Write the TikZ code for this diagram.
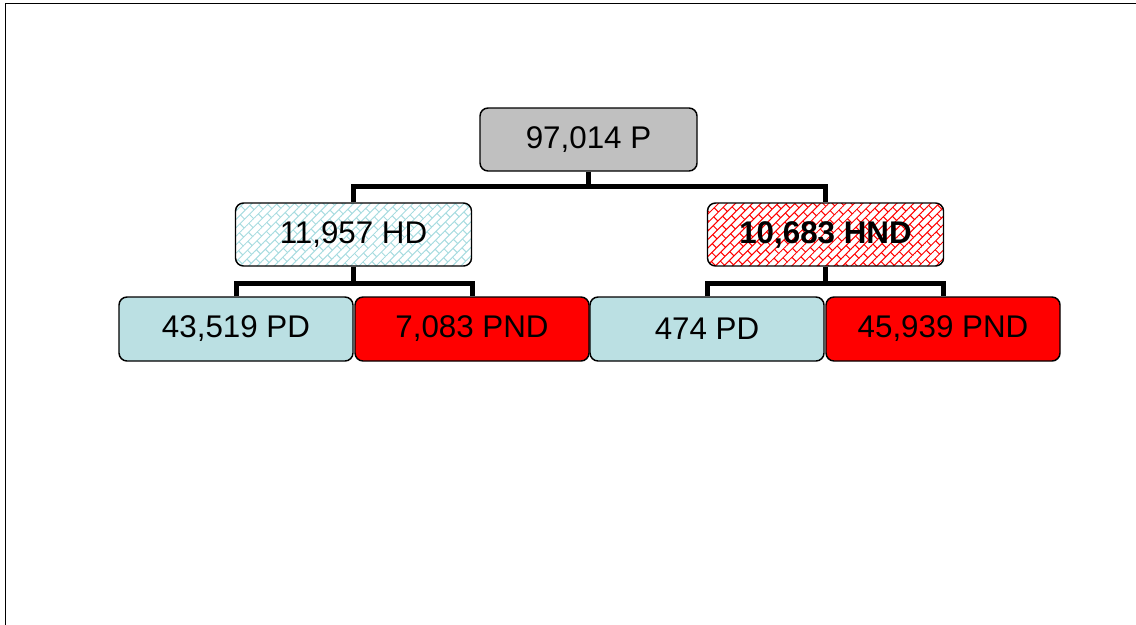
\documentclass[tikz,border=0pt]{standalone}
\usepackage{fontspec}
\setmainfont{Liberation Sans}
\usetikzlibrary{patterns.meta}
\pgfdeclarepattern{
  name=diagbricks,
  type=uncolored,
  bottom left={\pgfpoint{-0.5pt}{-0.5pt}},
  top right={\pgfpoint{10.5pt}{9.5pt}},
  tile size={\pgfpoint{10pt}{9pt}},
  tile transformation={\pgftransformrotate{45}},
  code={
    \pgfsetlinewidth{0.75pt}
    \pgfpathmoveto{\pgfpoint{0pt}{0pt}}\pgfpathlineto{\pgfpoint{10pt}{0pt}}
    \pgfpathmoveto{\pgfpoint{0pt}{4.5pt}}\pgfpathlineto{\pgfpoint{10pt}{4.5pt}}
    \pgfpathmoveto{\pgfpoint{0pt}{0pt}}\pgfpathlineto{\pgfpoint{0pt}{4.5pt}}
    \pgfpathmoveto{\pgfpoint{5pt}{4.5pt}}\pgfpathlineto{\pgfpoint{5pt}{9pt}}
    \pgfusepath{stroke}
  }
}
\definecolor{rootgray}{HTML}{C0C0C0}
\definecolor{pdblue}{HTML}{BBE0E3}
\definecolor{hatchblue}{HTML}{A8DCE0}
\definecolor{pndred}{HTML}{FF0000}
\tikzset{
  box/.style={draw=black, line width=1.1pt, rounded corners=6pt, inner sep=0pt,
    font=\fontsize{23.5}{28}\selectfont, text=black},
  rootbox/.style={box, fill=rootgray, minimum width={217*0.75pt}, minimum height={63*0.75pt}},
  midbox/.style={box, minimum width={236*0.75pt}, minimum height={63*0.75pt}},
  leafbox/.style={box, minimum width={234*0.75pt}, minimum height={64*0.75pt}},
  conn/.style={draw=black, line width=3.75pt, line join=miter, line cap=butt},
  frame/.style={draw=black, line width=1.4pt}
}
\begin{document}
\begin{tikzpicture}[x=0.75pt, y=-0.75pt]
\useasboundingbox (0,0) rectangle (1136,625);
\draw[frame] (5.5,630) -- (5.5,3.5) -- (1140,3.5);

\node[rootbox] (root) at (588.5,139.5) {97,014 P};
\node[midbox, pattern={diagbricks}, pattern color=hatchblue] (hd) at (353.5,234.5) {11,957 HD};
\node[midbox, pattern={diagbricks}, pattern color=pndred] (hnd) at (825.5,234.5) {\textbf{10,683 HND}};
\node[leafbox, fill=pdblue] (pd1) at (236,329) {43,519 PD};
\node[leafbox, fill=pndred] (pnd1) at (472,329) {7,083 PND};
\node[leafbox, fill=pdblue] (pd2) at (707,329) {474 PD};
\node[leafbox, fill=pndred] (pnd2) at (943,329) {45,939 PND};

\coordinate (j1) at (root.south |- 0,186);
\coordinate (j2) at (hd.south |- 0,283);
\coordinate (j3) at (hnd.south |- 0,283);

\draw[conn] (root.south) -- (j1);
\draw[conn] (hd.south) -- (j2);
\draw[conn] (hnd.south) -- (j3);
\draw[conn] (hd.north) |- (j1) -| (hnd.north);
\draw[conn] (pd1.north) |- (j2) -| (pnd1.north);
\draw[conn] (pd2.north) |- (j3) -| (pnd2.north);
\end{tikzpicture}
\end{document}
